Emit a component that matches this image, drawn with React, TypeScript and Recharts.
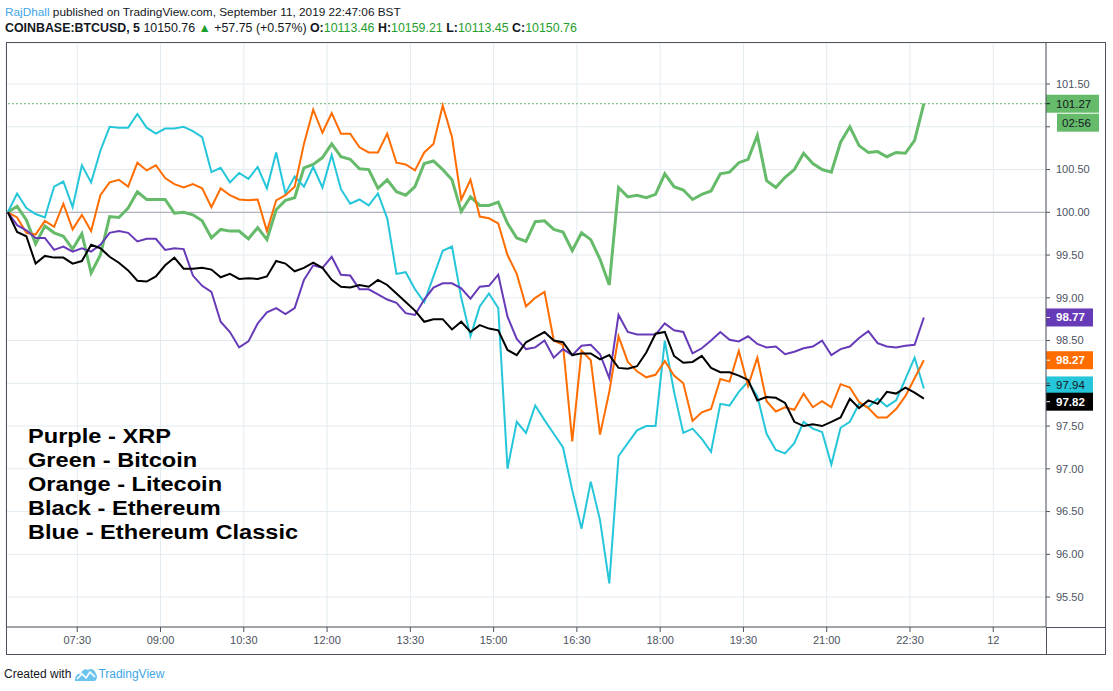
import React from 'react'
import { LineChart, Line, XAxis, YAxis, CartesianGrid, ReferenceLine } from 'recharts'

const FONT = '"Liberation Sans", Arial, sans-serif'

// 10-minute samples from 06:15 to 22:45 (Sept 11), % of the 06:15 level
const START_MIN = 375
const STEP_MIN = 10

const bitcoin = [
  100.0, 100.07, 99.91, 99.63, 99.84, 99.76, 99.72, 99.57, 99.75, 99.29,
  99.5, 99.95, 99.94, 100.05, 100.24, 100.15, 100.15, 100.15, 99.99, 100.0,
  99.97, 99.9, 99.7, 99.8, 99.78, 99.78, 99.69, 99.82, 99.68, 100.03,
  100.14, 100.17, 100.52, 100.56, 100.64, 100.8, 100.65, 100.62, 100.51, 100.5,
  100.28, 100.38, 100.24, 100.2, 100.3, 100.57, 100.6, 100.5, 100.38, 100.01,
  100.18, 100.08, 100.08, 100.12, 99.87, 99.7, 99.66, 99.89, 99.9, 99.8,
  99.77, 99.55, 99.76, 99.68, 99.45, 99.15, 100.29, 100.18, 100.2, 100.17,
  100.21, 100.45, 100.3, 100.26, 100.15, 100.21, 100.25, 100.45, 100.47, 100.58,
  100.62, 100.9, 100.37, 100.29, 100.41, 100.5, 100.69, 100.57, 100.5, 100.47,
  100.82, 101.0, 100.78, 100.7, 100.71, 100.65, 100.7, 100.69, 100.84, 101.27,
]

const litecoin = [
  100.0, 99.94, 99.76, 99.74, 99.9, 99.83, 100.1, 99.8, 99.97, 99.78,
  100.2, 100.35, 100.38, 100.3, 100.58, 100.49, 100.55, 100.4, 100.33, 100.29,
  100.33, 100.28, 100.06, 100.28, 100.2, 100.15, 100.14, 100.15, 99.78, 100.14,
  100.2, 100.3, 100.8, 101.2, 100.93, 101.16, 100.92, 100.92, 100.76, 100.7,
  100.7, 100.92, 100.58, 100.56, 100.49, 100.7, 100.8, 101.25, 100.88, 100.15,
  100.38, 99.95, 99.93, 99.87, 99.5, 99.28, 98.9, 99.0, 99.07, 98.5,
  98.45, 97.32, 98.38, 98.27, 97.4, 97.9, 98.55, 98.25, 98.14, 98.07,
  98.1, 98.26, 98.09, 98.0, 97.56, 97.66, 97.7, 98.05, 98.02, 98.38,
  97.97, 98.3, 97.79, 97.67, 97.72, 97.69, 97.88, 97.72, 97.79, 97.72,
  97.99, 97.95, 97.78, 97.71, 97.6, 97.6, 97.7, 97.85, 98.06, 98.27,
]

const ethClassic = [
  100.0, 100.22, 100.05, 99.98, 99.94, 100.3, 100.36, 100.06, 100.55, 100.35,
  100.72, 101.0, 100.99, 100.99, 101.15, 100.99, 100.92, 100.98, 100.98, 101.0,
  100.95, 100.88, 100.47, 100.52, 100.35, 100.46, 100.39, 100.53, 100.28, 100.7,
  100.22, 100.42, 100.3, 100.53, 100.29, 100.67, 100.27, 100.1, 100.15, 100.08,
  100.22, 99.93, 99.28, 99.3, 99.1, 98.95, 99.25, 99.55, 99.6, 99.0,
  98.55, 98.9, 99.05, 98.88, 97.0, 97.55, 97.42, 97.74, 97.57, 97.41,
  97.25, 96.75, 96.3, 96.85, 96.4, 95.66, 97.15, 97.3, 97.45, 97.5,
  97.5, 98.5, 97.9, 97.42, 97.47, 97.35, 97.2, 97.76, 97.74, 97.9,
  98.02, 97.85, 97.41, 97.22, 97.18, 97.3, 97.55, 97.47, 97.43, 97.05,
  97.48, 97.55, 97.76, 97.72, 97.82, 97.73, 97.8, 98.05, 98.3, 97.94,
]

const xrp = [
  100.0, 99.85, 99.79, 99.7, 99.7, 99.56, 99.6, 99.54, 99.58, 99.54,
  99.62, 99.76, 99.78, 99.76, 99.66, 99.69, 99.69, 99.56, 99.58, 99.57,
  99.26, 99.14, 99.07, 98.72, 98.6, 98.42, 98.49, 98.7, 98.83, 98.88,
  98.81, 98.88, 99.21, 99.38, 99.35, 99.48, 99.27, 99.26, 99.1, 99.1,
  99.04, 98.98, 98.94, 98.82, 98.8, 98.98, 99.12, 99.17, 99.17, 99.11,
  98.99, 99.13, 99.14, 99.27, 98.78, 98.52, 98.4, 98.42, 98.5, 98.3,
  98.4, 98.33, 98.44, 98.45, 98.34, 98.06, 98.8, 98.6, 98.57, 98.57,
  98.57, 98.7, 98.62, 98.6, 98.35, 98.41, 98.5, 98.6, 98.51, 98.49,
  98.55, 98.46, 98.42, 98.43, 98.34, 98.37, 98.41, 98.43, 98.5, 98.33,
  98.4, 98.43, 98.53, 98.61, 98.47, 98.43, 98.42, 98.44, 98.45, 98.77,
]

const ethereum = [
  100.0, 99.77, 99.72, 99.4, 99.49, 99.47, 99.47, 99.4, 99.43, 99.62,
  99.58, 99.48, 99.41, 99.32, 99.2, 99.19, 99.25, 99.38, 99.47, 99.34,
  99.34, 99.35, 99.33, 99.24, 99.28, 99.22, 99.23, 99.22, 99.25, 99.43,
  99.4, 99.31, 99.35, 99.41, 99.35, 99.21, 99.13, 99.12, 99.15, 99.13,
  99.21, 99.15, 99.05, 98.95, 98.85, 98.72, 98.75, 98.75, 98.63, 98.72,
  98.6, 98.68, 98.64, 98.62, 98.39, 98.33, 98.48, 98.54, 98.6, 98.5,
  98.48, 98.33, 98.35, 98.35, 98.28, 98.33, 98.18, 98.17, 98.2, 98.36,
  98.58, 98.6, 98.32, 98.24, 98.25, 98.32, 98.18, 98.13, 98.13, 98.09,
  98.04, 97.8, 97.84, 97.83, 97.77, 97.55, 97.5, 97.52, 97.5, 97.55,
  97.6, 97.82, 97.71, 97.8, 97.76, 97.9, 97.88, 97.95, 97.89, 97.82,
]

const timeTicks = [450, 540, 630, 720, 810, 900, 990, 1080, 1170, 1260, 1350, 1440]
const timeLabels = ['07:30', '09:00', '10:30', '12:00', '13:30', '15:00', '16:30', '18:00', '19:30', '21:00', '22:30', '12']
const priceTicks = [95.5, 96, 96.5, 97, 97.5, 98, 98.5, 99, 99.5, 100, 100.5, 101, 101.5]

const COLORS = {
  btc: '#66bb6a',
  ltc: '#ff6d00',
  etc: '#26c6da',
  xrp: '#673ab7',
  eth: '#000000',
}

const data = bitcoin.map((v, i) => ({
  t: START_MIN + i * STEP_MIN,
  btc: v,
  ltc: litecoin[i],
  etc: ethClassic[i],
  xrp: xrp[i],
  eth: ethereum[i],
}))

const last = (arr: number[]) => arr[arr.length - 1]

// price tags on the right axis hide the tick labels they sit on
const tagValues = [last(bitcoin), last(litecoin), last(ethClassic), last(xrp), last(ethereum)]
const isCovered = (v: number) => {
  if (tagValues.some((t) => Math.abs(t - v) < 0.17)) return true
  const b = last(bitcoin)
  return v < b - 0.05 && v > b - 0.4
}

function PriceAxisTick(props: any) {
  const { x, y, payload } = props
  if (isCovered(payload.value)) return null
  return (
    <text x={x} y={y} dy="0.355em" textAnchor="start" fill="#4c525e" fontSize={11} fontFamily={FONT}>
      {payload.value.toFixed(2)}
    </text>
  )
}

function PriceTag(props: any) {
  const { viewBox, value, bg, fg, bold, countdown, nudge = 0 } = props
  if (!viewBox) return null
  const left = viewBox.x + viewBox.width
  const y = viewBox.y + nudge
  const text = value.toFixed(2)
  const w = text.length > 5 ? 53 : 47
  return (
    <g>
      <rect x={left} y={y - 9} width={w} height={18} fill={bg} />
      <line x1={left} x2={left + 4} y1={y} y2={y} stroke={fg} strokeWidth={1} />
      <text x={left + 10} y={y + 4} fill={fg} fontSize={11.5} fontFamily={FONT} fontWeight={bold ? 700 : 400}>
        {text}
      </text>
      {countdown && (
        <g>
          <rect x={left + 11} y={y + 10} width={42} height={18} fill={bg} />
          <text x={left + 16} y={y + 23} fill={fg} fontSize={11.5} fontFamily={FONT}>
            {countdown}
          </text>
        </g>
      )}
    </g>
  )
}

export default function App() {
  return (
    <div style={{ position: 'absolute', left: 0, top: 0, width: 1113, height: 691, background: '#fff', fontFamily: FONT, overflow: 'hidden' }}>
      <LineChart width={1113} height={691} data={data} margin={{ top: 43, right: 7, bottom: 36, left: 6 }}>
        <CartesianGrid stroke="#e3ebf0" strokeWidth={1} />
        <XAxis
          dataKey="t"
          type="number"
          domain={[373, 1497]}
          ticks={timeTicks}
          allowDataOverflow
          tickFormatter={(v: number) => timeLabels[timeTicks.indexOf(v)]}
          height={28}
          tickSize={5}
          tickMargin={4}
          stroke="#50535e"
          tick={{ fill: '#4c525e', fontSize: 11, fontFamily: FONT }}
        />
        <YAxis
          orientation="right"
          type="number"
          domain={[95.15, 101.98]}
          ticks={priceTicks}
          allowDataOverflow
          width={60}
          tickSize={4}
          tickMargin={6}
          stroke="#50535e"
          tick={<PriceAxisTick />}
        />
        <ReferenceLine y={100} stroke="#a3a6af" strokeWidth={1} />
        <Line dataKey="btc" stroke={COLORS.btc} strokeWidth={3} dot={false} type="linear" isAnimationActive={false} />
        <Line dataKey="etc" stroke={COLORS.etc} strokeWidth={2} dot={false} type="linear" isAnimationActive={false} />
        <Line dataKey="ltc" stroke={COLORS.ltc} strokeWidth={2} dot={false} type="linear" isAnimationActive={false} />
        <Line dataKey="xrp" stroke={COLORS.xrp} strokeWidth={2} dot={false} type="linear" isAnimationActive={false} />
        <Line dataKey="eth" stroke={COLORS.eth} strokeWidth={2} dot={false} type="linear" isAnimationActive={false} />
        <ReferenceLine
          y={last(bitcoin)}
          stroke={COLORS.btc}
          strokeDasharray="2 2"
          strokeWidth={1}
          label={(p: any) => <PriceTag {...p} value={last(bitcoin)} bg={COLORS.btc} fg="#131722" countdown="02:56" />}
        />
        <ReferenceLine y={last(xrp)} stroke="none" label={(p: any) => <PriceTag {...p} value={last(xrp)} bg={COLORS.xrp} fg="#ffffff" bold />} />
        <ReferenceLine y={last(litecoin)} stroke="none" label={(p: any) => <PriceTag {...p} value={last(litecoin)} bg={COLORS.ltc} fg="#ffffff" bold />} />
        <ReferenceLine y={last(ethClassic)} stroke="none" label={(p: any) => <PriceTag {...p} value={last(ethClassic)} bg={COLORS.etc} fg="#131722" nudge={-3} />} />
        <ReferenceLine y={last(ethereum)} stroke="none" label={(p: any) => <PriceTag {...p} value={last(ethereum)} bg={COLORS.eth} fg="#ffffff" bold nudge={3} />} />
      </LineChart>

      {/* frame */}
      <div style={{ position: 'absolute', left: 6, top: 42, width: 1100, height: 613, border: '1px solid #50535e', boxSizing: 'border-box', pointerEvents: 'none' }} />
      <div style={{ position: 'absolute', left: 1046, top: 627, width: 1, height: 28, background: '#50535e' }} />
      <div style={{ position: 'absolute', left: 1046, top: 627, width: 60, height: 1, background: '#50535e' }} />

      {/* header */}
      <div style={{ position: 'absolute', left: 5, top: 5, fontSize: 11.8, color: '#131722', whiteSpace: 'nowrap' }}>
        <span style={{ color: '#3ea6e6' }}>RajDhall</span> published on TradingView.com, September 11, 2019 22:47:06 BST
      </div>
      <div style={{ position: 'absolute', left: 5, top: 21, fontSize: 12.4, color: '#131722', whiteSpace: 'nowrap' }}>
        <b>COINBASE:BTCUSD, 5</b> 10150.76 <span style={{ color: '#1e9e2c' }}>▲</span> +57.75 (+0.57%){' '}
        <b>O:</b><span style={{ color: '#1e9e2c' }}>10113.46</span> <b>H:</b><span style={{ color: '#1e9e2c' }}>10159.21</span>{' '}
        <b>L:</b><span style={{ color: '#1e9e2c' }}>10113.45</span> <b>C:</b><span style={{ color: '#1e9e2c' }}>10150.76</span>
      </div>

      {/* annotation */}
      <div style={{ position: 'absolute', left: 28, top: 424, fontSize: 20, lineHeight: '24px', fontWeight: 700, color: '#000', whiteSpace: 'nowrap', transform: 'scaleX(1.18)', transformOrigin: '0 0' }}>
        <div>Purple - XRP</div>
        <div>Green - Bitcoin</div>
        <div>Orange - Litecoin</div>
        <div>Black - Ethereum</div>
        <div>Blue - Ethereum Classic</div>
      </div>

      {/* footer */}
      <div style={{ position: 'absolute', left: 4, top: 666, fontSize: 12, color: '#131722', whiteSpace: 'nowrap', display: 'flex', alignItems: 'center' }}>
        <span>Created with</span>
        <svg width="24" height="16" viewBox="0 0 24 16" style={{ marginLeft: 3 }}>
          <path d="M1 15 C1 9 4 7 7 8 C8 4 11 2 14 4 C16 2 21 3 22 8 C24 10 23 15 20 15 Z" fill="#6cc4ee" />
          <path d="M3 13 L8 8 L12 12 L16 6 L21 11" stroke="#ffffff" strokeWidth={1.6} fill="none" />
        </svg>
        <span style={{ color: '#3ea6e6' }}>TradingView</span>
      </div>
    </div>
  )
}
